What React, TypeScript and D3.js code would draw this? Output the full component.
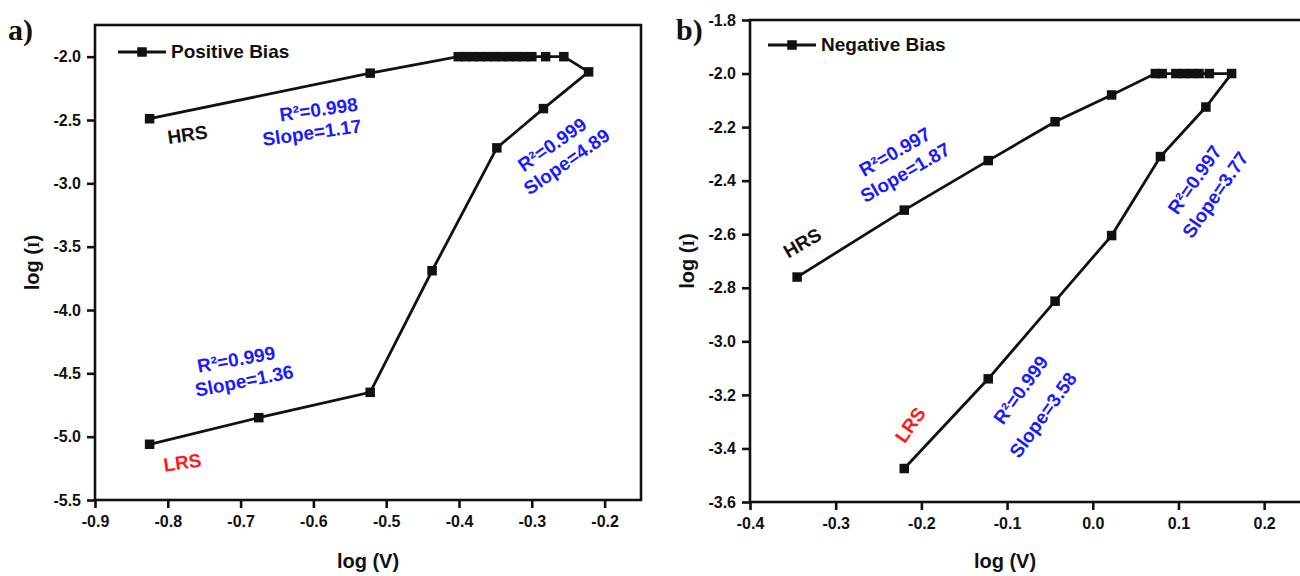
import React, { useEffect, useRef } from 'react';
import * as d3 from 'd3';

// a) positive bias sweep: HRS up to the compliance, then back down through LRS
const posLogV = [-0.825, -0.522, -0.401, -0.391, -0.381, -0.371, -0.361, -0.351, -0.341, -0.331, -0.321, -0.311, -0.3, -0.281, -0.256, -0.222, -0.284, -0.348, -0.437, -0.522, -0.675, -0.825];
const posLogI = [-2.49, -2.13, -2.0, -2.0, -2.0, -2.0, -2.0, -2.0, -2.0, -2.0, -2.0, -2.0, -2.0, -2.0, -2.0, -2.12, -2.41, -2.72, -3.69, -4.65, -4.85, -5.06];

// b) negative bias sweep
const negLogV = [-0.345, -0.22, -0.122, -0.044, 0.022, 0.073, 0.081, 0.097, 0.106, 0.115, 0.124, 0.136, 0.162, 0.132, 0.079, 0.022, -0.044, -0.122, -0.22];
const negLogI = [-2.76, -2.51, -2.325, -2.18, -2.08, -2.0, -2.0, -2.0, -2.0, -2.0, -2.0, -2.0, -2.0, -2.125, -2.31, -2.605, -2.85, -3.14, -3.475];

const posXTicks = [-0.9, -0.8, -0.7, -0.6, -0.5, -0.4, -0.3, -0.2];
const posYTicks = [-5.5, -5.0, -4.5, -4.0, -3.5, -3.0, -2.5, -2.0];
const negXTicks = [-0.4, -0.3, -0.2, -0.1, 0.0, 0.1, 0.2];
const negYTicks = [-3.6, -3.4, -3.2, -3.0, -2.8, -2.6, -2.4, -2.2, -2.0, -1.8];

// text labels placed in data coordinates: [text, logV, logI, angle, colour]
const posNotes = [
    ['HRS', -0.773, -2.616, -8, '#111'],
    ['R²=0.998', -0.593, -2.418, -8, '#1a1aff'],
    ['Slope=1.17', -0.602, -2.6, -8, '#1a1aff'],
    ['R²=0.999', -0.272, -2.695, -35, '#1a1aff'],
    ['Slope=4.89', -0.252, -2.83, -35, '#1a1aff'],
    ['R²=0.999', -0.706, -4.39, -10, '#1a1aff'],
    ['Slope=1.36', -0.695, -4.56, -11, '#1a1aff'],
    ['LRS', -0.78, -5.205, -8, '#ff1a1a'],
];
const negNotes = [
    ['R²=0.997', -0.231, -2.293, -30, '#1a1aff'],
    ['Slope=1.87', -0.219, -2.37, -30, '#1a1aff'],
    ['HRS', -0.339, -2.633, -30, '#111'],
    ['R²=0.997', 0.119, -2.397, -55, '#1a1aff'],
    ['Slope=3.77', 0.143, -2.453, -55, '#1a1aff'],
    ['R²=0.999', -0.084, -3.182, -54, '#1a1aff'],
    ['Slope=3.58', -0.058, -3.275, -54, '#1a1aff'],
    ['LRS', -0.213, -3.312, -55, '#ff1a1a'],
];

const font = '"Liberation Sans", Arial, sans-serif';

function setFont(sel, size) {
    return sel
        .style('font-family', font)
        .style('font-weight', 'bold')
        .style('font-size', `${size}px`);
}

export default function App() {
    const ref = useRef(null);

    useEffect(() => {
        drawChart();
        // eslint-disable-next-line
    }, []);

    function drawPanel(svg, cfg) {
        const x = d3.scaleLinear().domain(cfg.xDomain).range([cfg.left, cfg.right]);
        const y = d3.scaleLinear().domain(cfg.yDomain).range([cfg.bottom, cfg.top]);
        const g = svg.append('g');

        // frame
        g.append('rect')
            .attr('x', cfg.left)
            .attr('y', cfg.top)
            .attr('width', cfg.right - cfg.left)
            .attr('height', cfg.bottom - cfg.top)
            .attr('fill', 'none')
            .attr('stroke', '#111')
            .attr('stroke-width', 2.6);

        const fmt = (d) => d.toFixed(1);
        const xAxis = g
            .append('g')
            .attr('transform', `translate(0,${cfg.bottom})`)
            .call(d3.axisBottom(x).tickValues(cfg.xTicks).tickFormat(fmt).tickSize(8).tickPadding(8));
        const yAxis = g
            .append('g')
            .attr('transform', `translate(${cfg.left},0)`)
            .call(d3.axisLeft(y).tickValues(cfg.yTicks).tickFormat(fmt).tickSize(8).tickPadding(6));
        [xAxis, yAxis].forEach((a) => {
            a.select('.domain').remove();
            a.selectAll('line').attr('stroke', '#111').attr('stroke-width', 2.6);
            setFont(a.selectAll('text').attr('fill', '#111'), 16);
        });

        // axis titles
        setFont(
            g.append('text')
                .attr('x', (cfg.left + Math.min(cfg.right, 1300)) / 2 - (cfg.right > 1300 ? 20 : 0))
                .attr('y', 568)
                .attr('text-anchor', 'middle')
                .attr('fill', '#111'),
            20,
        ).text('log (V)');
        const yt = setFont(
            g.append('text')
                .attr('transform', `translate(${cfg.left - 56},${(cfg.top + cfg.bottom) / 2}) rotate(-90)`)
                .attr('text-anchor', 'middle')
                .attr('fill', '#111'),
            20,
        );
        yt.append('tspan').text('log (');
        yt.append('tspan').style('font-family', '"Liberation Serif", serif').style('font-size', '17px').text('I');
        yt.append('tspan').text(')');

        // panel letter
        g.append('text')
            .attr('x', cfg.letterX)
            .attr('y', 40)
            .style('font-family', '"Liberation Serif", serif')
            .style('font-weight', 'bold')
            .style('font-size', '30px')
            .attr('fill', '#111')
            .text(cfg.letter);

        // data line + square markers
        const pts = cfg.xs.map((v, i) => [v, cfg.ys[i]]);
        g.append('path')
            .datum(pts)
            .attr('fill', 'none')
            .attr('stroke', '#111')
            .attr('stroke-width', 2.8)
            .attr('d', d3.line().x((d) => x(d[0])).y((d) => y(d[1])));
        const s = 9.5;
        g.selectAll('rect.pt')
            .data(pts)
            .enter()
            .append('rect')
            .attr('class', 'pt')
            .attr('x', (d) => x(d[0]) - s / 2)
            .attr('y', (d) => y(d[1]) - s / 2)
            .attr('width', s)
            .attr('height', s)
            .attr('fill', '#111');

        // legend
        const lx = cfg.left + cfg.legendDx;
        const ly = cfg.top + cfg.legendDy;
        g.append('line').attr('x1', lx).attr('x2', lx + 48).attr('y1', ly).attr('y2', ly).attr('stroke', '#111').attr('stroke-width', 2.8);
        g.append('rect').attr('x', lx + 24 - s / 2).attr('y', ly - s / 2).attr('width', s).attr('height', s).attr('fill', '#111');
        setFont(
            g.append('text')
                .attr('x', lx + 53)
                .attr('y', ly + 6)
                .attr('fill', '#111'),
            19,
        ).text(cfg.legend);

        // annotations
        cfg.notes.forEach(([t, vx, vy, ang, col]) => {
            setFont(
                g.append('text')
                    .attr('transform', `translate(${x(vx)},${y(vy)}) rotate(${ang})`)
                    .attr('text-anchor', 'middle')
                    .attr('dominant-baseline', 'central')
                    .attr('fill', col),
                19,
            ).text(t);
        });
    }

    function drawChart() {
        const svg = d3.select(ref.current);
        svg.selectAll('*').remove();
        drawPanel(svg, {
            left: 95, right: 641, top: 25, bottom: 500,
            xDomain: [-0.9, -0.15], yDomain: [-5.5, -1.75],
            xTicks: posXTicks, yTicks: posYTicks,
            xs: posLogV, ys: posLogI,
            notes: posNotes, legend: 'Positive Bias',
            legendDx: 23, legendDy: 27, letter: 'a)', letterX: 8,
        });
        drawPanel(svg, {
            left: 750, right: 1307, top: 20, bottom: 502,
            xDomain: [-0.4, 0.25], yDomain: [-3.6, -1.8],
            xTicks: negXTicks, yTicks: negYTicks,
            xs: negLogV, ys: negLogI,
            notes: negNotes, legend: 'Negative Bias',
            legendDx: 18, legendDy: 25, letter: 'b)', letterX: 676,
        });
    }

    return (
        <svg
            ref={ref}
            width={1300}
            height={576}
            style={{ position: 'absolute', left: 0, top: 0, background: '#fff' }}
        />
    );
}
